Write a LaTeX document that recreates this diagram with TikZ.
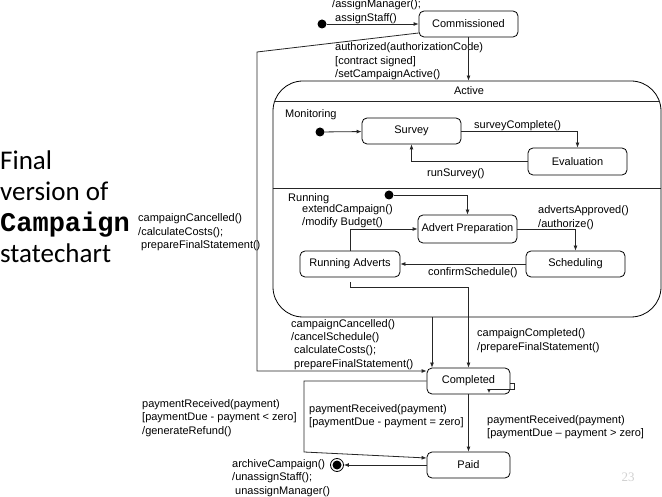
\documentclass[tikz,border=0pt]{standalone}
\usepackage{fontspec}
\setmainfont{Liberation Sans}
\newfontfamily\titlefont{Carlito}
\newfontfamily\codefont{Liberation Mono}
\newfontfamily\numfont{Liberation Serif}
\usetikzlibrary{arrows.meta}
\begin{document}
\begin{tikzpicture}[x=1pt,y=-1pt,
  every node/.style={font=\fontsize{11}{13.5}\selectfont},
  st/.style={draw,rounded corners=5pt,minimum width=99pt,minimum height=26pt,inner sep=0pt,line width=0.8pt},
  lbl/.style={anchor=base west,align=left,inner sep=0pt},
  tr/.style={line width=0.8pt,draw=black!85,-{Latex[length=5pt,width=4pt]}},
  ln/.style={line width=0.8pt,draw=black!85},
  dot/.style={circle,fill,inner sep=0pt,minimum size=9pt}]
\useasboundingbox (0,0) rectangle (662,497);

% title (base = last line)
\node[lbl,font=\titlefont\fontsize{27}{31}\selectfont] (title) at (0,263)
  {Final\\version of\\{\codefont\bfseries Campaign}\\statechart};

% Commissioned
\node[dot] (init1) at (322,24) {};
\node[st] (comm) at (468.5,24) {Commissioned};
\node[lbl] (assignlbl) at (332,21.5) {/assignManager();\\\kern3pt assignStaff()};
\node[lbl] (authlbl) at (335,78) {authorized(authorizationCode)\\{[}contract signed{]}\\/setCampaignActive()};

% Active composite
\node[draw,rounded corners=30pt,minimum width=388pt,minimum height=236pt,line width=0.8pt,inner sep=0pt] (active) at (467,199) {};
\node (activelbl) at (469,91) {Active};
\begin{scope}
  \clip[rounded corners=30pt] (active.north west) rectangle (active.south east);
  \draw[ln] (active.west |- 0,101) -- (active.east |- 0,101);
\end{scope}
\draw[ln] (active.west |- 0,188) -- (active.east |- 0,188);

% Monitoring
\node[lbl] (monlbl) at (285,118) {Monitoring};
\node[dot] (init2) at (320,132) {};
\node[st] (survey) at (411.5,131) {Survey};
\node[st,minimum height=27pt] (eval) at (577.5,161.5) {Evaluation};
\node[lbl] (sclbl) at (474,129) {surveyComplete()};
\node[lbl] (rslbl) at (427,177) {runSurvey()};

% Running
\node[lbl] (runlbl) at (288,202) {Running};
\node[dot] (init3) at (389,195) {};
\node[st,minimum height=28pt] (advprep) at (467.5,229) {Advert Preparation};
\node[st,minimum width=100pt] (runads) at (350,264) {Running Adverts};
\node[st] (sched) at (575.5,264) {Scheduling};
\node[lbl] (extlbl) at (302,226) {extendCampaign()\\/modify Budget()};
\node[lbl] (aalbl) at (538,227.5) {advertsApproved()\\/authorize()};
\node[lbl] (cslbl) at (428,276) {confirmSchedule()};

% Completed / Paid / final
\node[st,minimum width=83pt] (completed) at (468.5,381) {Completed};
\node[st,minimum width=83pt] (paid) at (468.5,465) {Paid};
\node[circle,draw,line width=0.8pt,minimum size=13pt,inner sep=0pt] (final) at (337,465) {};
\fill (final.center) circle (4.5pt);

% labels lower part (base = last line)
\node[lbl] (cc1lbl) at (138,249) {campaignCancelled()\\/calculateCosts();\\\kern3pt prepareFinalStatement()};
\node[lbl] (cc2lbl) at (291,367.5) {campaignCancelled()\\/cancelSchedule()\\\kern3pt calculateCosts();\\\kern3pt prepareFinalStatement()};
\node[lbl] (cplbl) at (477,350.5) {campaignCompleted()\\/prepareFinalStatement()};
\node[lbl] (p1lbl) at (142,434) {paymentReceived(payment)\\{[}paymentDue - payment < zero{]}\\/generateRefund()};
\node[lbl] (p2lbl) at (309,425.5) {paymentReceived(payment)\\{[}paymentDue - payment = zero{]}};
\node[lbl] (p3lbl) at (487,436.5) {paymentReceived(payment)\\{[}paymentDue – payment > zero{]}};
\node[lbl] (arclbl) at (232,494) {archiveCampaign()\\/unassignStaff();\\\kern3pt unassignManager()};
\node[font=\numfont\fontsize{13}{15}\selectfont,text=black!18] (pagenum) at (628,477) {23};

% coordinates
\coordinate (k1) at (257,52);
\coordinate (k2) at (257,371);
\coordinate (k3) at (350,287);
\coordinate (k4) at (432,0);
\coordinate (k5) at (304,381);
\coordinate (k6) at (304,452);
\coordinate (k7) at (514,383);
\coordinate (k8) at (514,389);
\coordinate (k9) at (489,389);
\coordinate (k10) at (489,393);

% transitions
\draw[tr] (init1) -- (comm);
\draw[tr] (comm.south) -- (comm.south |- active.north);
\draw[tr] ([yshift=-9pt]comm.west) -- (k1) -- (k2) -- ([yshift=10pt]completed.west);
\draw[tr] (init2) -- (survey);
\draw[tr] (survey.east) -| (eval.north);
\draw[tr] (eval.west) -| (survey.south);
\draw[tr] (init3) -| (advprep.north);
\draw[tr] (runads.north) |- (advprep.west);
\draw[tr] (advprep.east) -| (sched.north);
\draw[tr] (sched.west) -- (runads.east);
\draw[tr] ([yshift=-5pt]runads.south) -- (k3) -| (completed.north);
\draw[tr] (active.south -| k4) -- (completed.north -| k4);
\draw[tr] (completed.south) -- (paid.north);
\draw[tr] (completed.west |- k5) -- (k5) -- (k6) -- ([yshift=7pt]paid.west);
\draw[ln] ([yshift=-2pt]completed.east) -- (k7) -- (k8) -- (k9);
\draw[line width=0.8pt,draw=black!85,-{Latex[length=4pt,width=4pt]}] (k9) -- (k10);
\draw[tr] (paid.west) -- (final);
\end{tikzpicture}
\end{document}
